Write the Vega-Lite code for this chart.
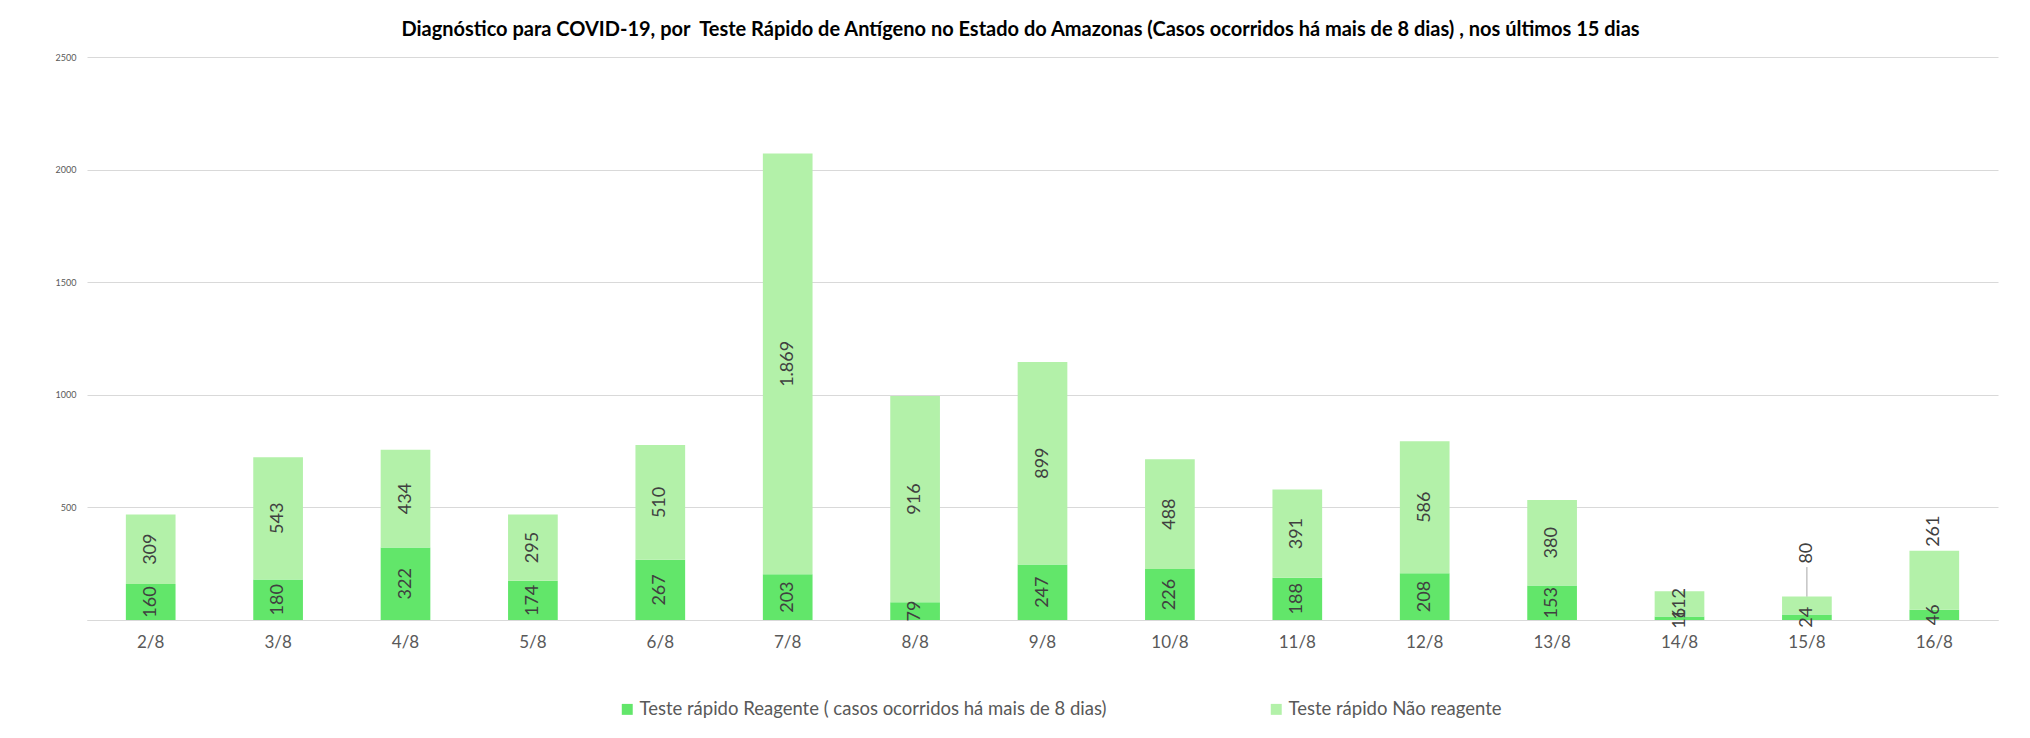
{
  "$schema": "https://vega.github.io/schema/vega-lite/v6.json",
  "width": 1911,
  "height": 563,
  "autosize": {"type": "none"},
  "padding": {"left": 87, "top": 57, "right": 32, "bottom": 118},
  "background": "white",
  "title": {
    "text": "Diagnóstico para COVID-19, por \u00a0Teste Rápido de Antígeno no Estado do Amazonas (Casos ocorridos há mais de 8 dias) , nos últimos 15 dias",
    "font": "Lato",
    "fontSize": 20,
    "fontWeight": "bold",
    "color": "#000000",
    "anchor": "middle",
    "frame": "group",
    "dx": -22,
    "offset": 13
  },
  "config": {
    "locale": {"number": {"decimal": ",", "thousands": ".", "grouping": [3], "currency": ["R$", ""]}},
    "view": {"stroke": null},
    "font": "Lato"
  },
  "data": {
    "values": [
      {"date": "2/8", "series": "Teste rápido Reagente ( casos ocorridos há mais de 8 dias)", "value": 160},
      {"date": "2/8", "series": "Teste rápido Não reagente", "value": 309},
      {"date": "3/8", "series": "Teste rápido Reagente ( casos ocorridos há mais de 8 dias)", "value": 180},
      {"date": "3/8", "series": "Teste rápido Não reagente", "value": 543},
      {"date": "4/8", "series": "Teste rápido Reagente ( casos ocorridos há mais de 8 dias)", "value": 322},
      {"date": "4/8", "series": "Teste rápido Não reagente", "value": 434},
      {"date": "5/8", "series": "Teste rápido Reagente ( casos ocorridos há mais de 8 dias)", "value": 174},
      {"date": "5/8", "series": "Teste rápido Não reagente", "value": 295},
      {"date": "6/8", "series": "Teste rápido Reagente ( casos ocorridos há mais de 8 dias)", "value": 267},
      {"date": "6/8", "series": "Teste rápido Não reagente", "value": 510},
      {"date": "7/8", "series": "Teste rápido Reagente ( casos ocorridos há mais de 8 dias)", "value": 203},
      {"date": "7/8", "series": "Teste rápido Não reagente", "value": 1869},
      {"date": "8/8", "series": "Teste rápido Reagente ( casos ocorridos há mais de 8 dias)", "value": 79},
      {"date": "8/8", "series": "Teste rápido Não reagente", "value": 916},
      {"date": "9/8", "series": "Teste rápido Reagente ( casos ocorridos há mais de 8 dias)", "value": 247},
      {"date": "9/8", "series": "Teste rápido Não reagente", "value": 899},
      {"date": "10/8", "series": "Teste rápido Reagente ( casos ocorridos há mais de 8 dias)", "value": 226},
      {"date": "10/8", "series": "Teste rápido Não reagente", "value": 488},
      {"date": "11/8", "series": "Teste rápido Reagente ( casos ocorridos há mais de 8 dias)", "value": 188},
      {"date": "11/8", "series": "Teste rápido Não reagente", "value": 391},
      {"date": "12/8", "series": "Teste rápido Reagente ( casos ocorridos há mais de 8 dias)", "value": 208},
      {"date": "12/8", "series": "Teste rápido Não reagente", "value": 586},
      {"date": "13/8", "series": "Teste rápido Reagente ( casos ocorridos há mais de 8 dias)", "value": 153},
      {"date": "13/8", "series": "Teste rápido Não reagente", "value": 380},
      {"date": "14/8", "series": "Teste rápido Reagente ( casos ocorridos há mais de 8 dias)", "value": 16},
      {"date": "14/8", "series": "Teste rápido Não reagente", "value": 112},
      {"date": "15/8", "series": "Teste rápido Reagente ( casos ocorridos há mais de 8 dias)", "value": 24},
      {"date": "15/8", "series": "Teste rápido Não reagente", "value": 80},
      {"date": "16/8", "series": "Teste rápido Reagente ( casos ocorridos há mais de 8 dias)", "value": 46},
      {"date": "16/8", "series": "Teste rápido Não reagente", "value": 261}
    ]
  },
  "transform": [
    {"stack": "value", "groupby": ["date"], "sort": [{"field": "series", "order": "descending"}], "as": ["v0", "v1"]},
    {"calculate": "(datum.v0 + datum.v1) / 2", "as": "mid"},
    {"calculate": "datum.date == '15/8' && datum.series == 'Teste rápido Não reagente' ? 'lead' : (datum.date == '16/8' && datum.series == 'Teste rápido Não reagente' ? 'above' : 'inside')", "as": "lpos"}
  ],
  "encoding": {
    "x": {
      "field": "date",
      "type": "ordinal",
      "sort": ["2/8","3/8","4/8","5/8","6/8","7/8","8/8","9/8","10/8","11/8","12/8","13/8","14/8","15/8","16/8"],
      "scale": {"paddingInner": 0.61, "paddingOuter": 0.305},
      "axis": {
        "title": null,
        "labelAngle": 0,
        "labelFont": "Lato",
        "labelFontSize": 17,
        "labelColor": "#595959",
        "labelPadding": 14,
        "ticks": false,
        "domainColor": "#d9d9d9",
        "domainWidth": 1
      }
    }
  },
  "layer": [
    {
      "mark": {"type": "bar"},
      "encoding": {
        "y": {
          "field": "v0",
          "type": "quantitative",
          "scale": {"domain": [0, 2500], "nice": false},
          "axis": {
            "title": null,
            "values": [0, 500, 1000, 1500, 2000, 2500],
            "labelExpr": "datum.value == 0 ? '' : datum.label",
            "format": "d",
            "labelFont": "Lato",
            "labelFontSize": 9,
            "labelColor": "#595959",
            "labelPadding": 11,
            "domain": false,
            "ticks": false,
            "grid": true,
            "gridColor": "#d9d9d9",
            "gridWidth": 1
          }
        },
        "y2": {"field": "v1"},
        "color": {
          "field": "series",
          "type": "nominal",
          "scale": {
            "domain": ["Teste rápido Reagente ( casos ocorridos há mais de 8 dias)", "Teste rápido Não reagente"],
            "range": ["#62e66a", "#b3f1a9"]
          },
          "legend": {
            "title": null,
            "orient": "none",
            "legendX": 531,
            "legendY": 643,
            "direction": "horizontal",
            "columns": 2,
            "columnPadding": 160,
            "padding": 0,
            "symbolType": "square",
            "symbolSize": 120,
            "symbolStrokeWidth": 0,
            "labelFont": "Lato",
            "labelFontSize": 18.5,
            "labelColor": "#595959",
            "labelOffset": 3,
            "labelLimit": 1000
          }
        }
      }
    },
    {
      "transform": [{"filter": "datum.lpos == 'inside'"}],
      "mark": {"type": "text", "angle": 270, "align": "center", "baseline": "middle", "font": "Lato", "fontSize": 18, "color": "#404040"},
      "encoding": {
        "y": {"field": "mid", "type": "quantitative"},
        "text": {"field": "value", "type": "quantitative", "format": ",d"}
      }
    },
    {
      "transform": [{"filter": "datum.lpos == 'above'"}],
      "mark": {"type": "text", "angle": 270, "align": "left", "baseline": "middle", "font": "Lato", "fontSize": 18, "color": "#404040", "dx": 4},
      "encoding": {
        "y": {"field": "v1", "type": "quantitative"},
        "text": {"field": "value", "type": "quantitative", "format": ",d"}
      }
    },
    {
      "transform": [{"filter": "datum.lpos == 'lead'"}],
      "mark": {"type": "text", "angle": 270, "align": "left", "baseline": "middle", "font": "Lato", "fontSize": 18, "color": "#404040", "dx": 33},
      "encoding": {
        "y": {"field": "v1", "type": "quantitative"},
        "text": {"field": "value", "type": "quantitative", "format": ",d"}
      }
    },
    {
      "transform": [{"filter": "datum.lpos == 'lead'"}, {"calculate": "datum.v1 + 131", "as": "lt"}],
      "mark": {"type": "rule", "color": "#a6a6a6", "strokeWidth": 1},
      "encoding": {
        "y": {"field": "v1", "type": "quantitative"},
        "y2": {"field": "lt"}
      }
    }
  ]
}
